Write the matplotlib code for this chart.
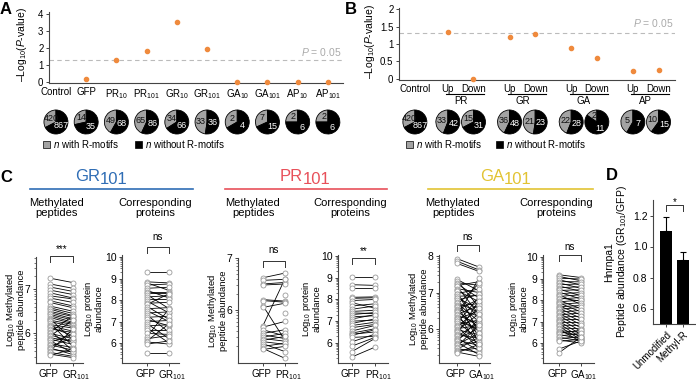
import numpy as np
import matplotlib
matplotlib.use('Agg')
import matplotlib.pyplot as plt
from matplotlib import transforms
from matplotlib.patches import Rectangle
from matplotlib.lines import Line2D
from matplotlib.ticker import FixedLocator, FormatStrFormatter

plt.rcParams['font.family'] = ['Liberation Sans', 'DejaVu Sans']
plt.rcParams['mathtext.fontset'] = 'custom'
plt.rcParams['mathtext.rm'] = 'Liberation Sans'
plt.rcParams['mathtext.it'] = 'Liberation Sans:italic'
plt.rcParams['axes.linewidth'] = 0.8
plt.rcParams['axes.edgecolor'] = '#444444'

GRAY = '#a3a3a3'
ORANGE = '#ef8a3d'
AXCOL = '#444444'

# ---- panel A data
a_labels = ['Control', 'GFP', 'PR$_{10}$', 'PR$_{101}$', 'GR$_{10}$', 'GR$_{101}$',
            'GA$_{10}$', 'GA$_{101}$', 'AP$_{10}$', 'AP$_{101}$']
a_logp = [np.nan, 0.2, 1.3, 1.85, 3.55, 1.92, 0.0, 0.0, 0.0, 0.0]
a_with = [420, 14, 49, 65, 34, 33, 2, 7, 2, 2]
a_without = [867, 35, 68, 86, 66, 36, 4, 15, 6, 6]

# ---- panel B data
b_groups = ['PR', 'GR', 'GA', 'AP']
b_ticklabels = ['Control'] + ['Up', 'Down'] * 4
b_logp = [np.nan, 1.33, 0.0, 1.21, 1.28, 0.88, 0.59, 0.24, 0.27]
b_with = [420, 33, 15, 36, 21, 22, 2, 5, 10]
b_without = [867, 42, 31, 48, 23, 28, 11, 7, 15]

P_CUT = 0.05

# ---- panel C data (log10 abundances, GFP vs DPR)
gr_pep_gfp = [7.25, 7.12, 7.05, 6.98, 6.92, 6.85, 6.80, 6.74, 6.70, 6.62, 6.58, 6.55, 6.50, 6.47, 6.43,
              6.40, 6.36, 6.33, 6.30, 6.27, 6.24, 6.20, 6.17, 6.14, 6.10, 6.07, 6.03, 6.00, 5.97, 5.94,
              5.90, 5.87, 5.84, 5.80, 5.77, 5.74, 5.70, 5.67, 5.64, 5.60, 5.57, 5.53, 5.50]
gr_pep_dpr = [7.15, 7.02, 6.95, 6.88, 6.80, 6.78, 6.70, 6.62, 6.58, 6.50, 6.45, 6.40, 6.38, 6.33, 6.30,
              6.25, 6.22, 5.85, 6.20, 6.15, 5.70, 6.12, 6.05, 5.95, 6.02, 5.60, 6.40, 5.88, 5.80, 6.30,
              5.82, 5.75, 5.55, 5.98, 5.68, 5.62, 5.90, 5.52, 5.58, 6.10, 5.48, 5.45, 5.65]

gr_prot_gfp = [9.30, 8.85, 8.80, 8.70, 8.55, 8.45, 8.40, 8.35, 8.25, 8.15, 8.05, 7.95, 7.85, 7.80, 7.70,
               7.60, 7.50, 7.40, 7.30, 7.20, 7.10, 7.00, 6.90, 6.80, 6.70, 6.60, 6.45, 6.30, 6.20, 6.10,
               6.05, 5.95, 5.55]
gr_prot_dpr = [9.30, 8.80, 8.45, 8.75, 8.60, 8.10, 8.40, 8.35, 7.60, 8.20, 8.05, 7.40, 7.90, 8.30, 7.10,
               7.65, 7.00, 7.45, 6.50, 7.25, 6.80, 7.05, 6.20, 6.85, 6.00, 6.60, 6.40, 7.60, 6.35, 6.90,
               5.95, 6.10, 5.55]

pr_pep_gfp = [6.62, 6.57, 6.50, 6.48, 6.20, 6.18, 6.08, 6.05, 5.70, 5.67, 5.62, 5.55, 5.52, 5.48, 5.45,
              5.42, 5.39, 5.35, 5.30, 5.26, 5.24, np.nan, np.nan]
pr_pep_dpr = [6.71, 6.59, 6.53, 6.50, 6.17, 6.15, 5.42, 6.13, 6.60, 5.78, 5.50, 5.62, 5.45, 5.55, 5.40,
              5.49, 5.34, 5.20, 5.36, 5.07, 5.30, 6.28, 5.95]

pr_prot_gfp = [9.02, 8.68, 8.55, 8.10, 8.05, 7.95, 7.85, 7.70, 7.55, 7.45, 7.38, 7.30, 7.20, 7.10, 7.00,
               6.90, 6.80, 6.70, 6.55, 6.45, 6.40, 6.35, 6.25, 6.05, 5.85, 5.60, 5.35]
pr_prot_dpr = [9.02, 8.65, 8.55, 8.12, 8.08, 8.00, 7.60, 7.80, 7.70, 7.50, 7.35, 7.40, 7.25, 7.30, 7.05,
               7.10, 6.95, 6.85, 6.80, 6.65, 6.50, 6.60, 6.30, 6.40, 6.25, 6.20, 5.80]

ga_pep_gfp = [7.93, 7.86, 7.80, 7.36, 7.33, 7.27, 7.24, 7.19, 7.17, 7.11, 7.06, 7.04, 6.97, 6.95, 6.90,
              6.86, 6.85, 6.79, 6.74, 6.72, 6.66, 6.63, 6.61, 6.55, 6.52, 6.49, 6.46, 6.40, 6.38, 6.33,
              6.31, 6.27, 6.22, 6.21, 6.16, 6.12, 6.09, 6.05, 6.01, 5.98, 5.96, 5.91, 5.87, 5.85, 5.80,
              5.76, 5.73, 5.70, 5.66, 5.63, 5.58, 5.56, 5.52, 5.47, 5.44, 5.41, 5.37, 5.35]
ga_pep_dpr = [7.70, 7.62, 7.58, 7.05, 6.60, 7.20, 6.85, 7.30, 6.40, 7.00, 6.75, 5.90, 7.10, 6.30, 6.92,
              6.55, 5.60, 6.95, 6.45, 6.20, 7.25, 6.70, 5.80, 6.35, 6.82, 6.05, 5.50, 6.65, 6.15, 7.40,
              5.95, 6.50, 6.00, 5.70, 6.88, 6.25, 5.45, 6.58, 6.10, 5.85, 6.42, 5.62, 6.78, 5.75, 6.18,
              5.40, 6.02, 5.55, 6.28, 5.30, 5.88, 5.65, 6.12, 5.35, 5.78, 5.48, 5.25, 5.58]

ga_prot_gfp = [9.18, 9.10, 9.02, 8.95, 8.86, 8.80, 8.72, 8.66, 8.58, 8.51, 8.45, 8.37, 8.30, 8.24, 8.17,
               8.11, 8.05, 7.98, 7.92, 7.87, 7.80, 7.74, 7.69, 7.62, 7.57, 7.50, 7.44, 7.38, 7.31, 7.27,
               7.20, 7.14, 7.08, 7.01, 6.96, 6.90, 6.83, 6.78, 6.71, 6.65, 6.58, 6.52, 6.45, 6.40, 6.33,
               6.27, 6.20, 6.14, 6.08, 5.72, 5.55]
ga_prot_dpr = [9.05, 8.90, 8.98, 8.70, 8.85, 8.55, 8.75, 8.40, 8.62, 8.20, 8.48, 8.05, 8.35, 7.80, 8.25,
               7.95, 8.12, 7.60, 8.00, 7.45, 7.88, 7.30, 7.75, 7.15, 7.66, 7.00, 7.52, 6.85, 7.40, 6.70,
               7.25, 6.55, 7.10, 6.40, 6.95, 6.25, 6.82, 6.15, 6.66, 6.05, 6.50, 6.35, 6.60, 6.20, 6.45,
               6.10, 6.30, 6.00, 6.18, 6.10, 6.28]

# ---- panel D data
d_labels = ['Unmodified', 'Methyl-R']
d_ratio = [1.10, 0.91]
d_err = [0.09, 0.055]

W, H = 696, 383
fig = plt.figure(figsize=(W / 100, H / 100), dpi=100)


def fx(px):
    return px / W


def fy(py):
    return 1 - py / H


def px_axes(left, top, right, bottom):
    return fig.add_axes([left / W, 1 - bottom / H, (right - left) / W, (bottom - top) / H])


def style_axes(ax):
    for s in ('top', 'right'):
        ax.spines[s].set_visible(False)
    ax.tick_params(direction='out', length=2.5, width=0.7, color=AXCOL, labelsize=7.5, pad=1.5)


def shift(artist, dx_px, dy_px=0):
    artist.set_transform(artist.get_transform() +
                         transforms.ScaledTranslation(dx_px / 100, dy_px / 100, fig.dpi_scale_trans))


def draw_pie(cx, cy, n_with, n_without, r=12):
    half = r * 1.25
    pa = px_axes(cx - half, cy - half, cx + half, cy + half)
    pa.pie([n_with, n_without], colors=[GRAY, 'black'], startangle=90, counterclock=True,
           wedgeprops=dict(edgecolor='black', linewidth=0.6))
    frac = n_with / (n_with + n_without)
    a1 = np.deg2rad(90 + 180 * frac)
    a2 = np.deg2rad(270 + 180 * frac)
    pa.text(0.5 * np.cos(a1), 0.62 * np.sin(a1), str(n_with), ha='center', va='center',
            fontsize=6.5, color='#111111')
    pa.text(0.48 * np.cos(a2), 0.62 * np.sin(a2), str(n_without), ha='center', va='center',
            fontsize=6.5, color='white')


def legend_row(x_gray, x_black, y):
    for x, col, txt in ((x_gray, GRAY, '$n$ with R-motifs'), (x_black, 'black', '$n$ without R-motifs')):
        fig.add_artist(Rectangle((fx(x), fy(y + 3.5)), 7 / W, 7 / H, transform=fig.transFigure,
                                 facecolor=col, edgecolor='black', lw=0.5))
        fig.text(fx(x + 10), fy(y), txt, va='center', ha='left', fontsize=7)


def pval_axes(ax, x, logp, labels):
    style_axes(ax)
    ax.scatter(x, logp, s=9, color=ORANGE, zorder=3, clip_on=False)
    ax.axhline(-np.log10(P_CUT), color='#bbbbbb', lw=0.8, dashes=(4, 3), zorder=1)
    ax.set_xticks(x)
    ax.set_xticklabels(labels)
    ax.tick_params(axis='x', length=0, labelsize=7, pad=3)
    ax.tick_params(axis='y', labelsize=7)
    ax.text(ax.get_xlim()[1] - 0.05, -np.log10(P_CUT) + 0.12, '$P$ = 0.05', ha='right', va='bottom',
            fontsize=7.5, color='#aaaaaa')


# ================= Panel A
axA = px_axes(49, 12, 343, 83)
axA.set_xlim(-0.23, 9.5)
axA.set_ylim(-0.06, 4.12)
a_x = np.arange(len(a_labels))
axA.set_yticks([0, 1, 2, 3, 4])
pval_axes(axA, a_x, a_logp, a_labels)
fig.text(fx(22), fy(44), '\u2013Log$_{10}$($P$-value)', rotation=90, ha='center', va='center', fontsize=7.5)
for xi, nw, nwo in zip(a_x, a_with, a_without):
    cx = axA.transData.transform((xi, 0))[0]
    draw_pie(cx, 122, nw, nwo)
legend_row(43, 135, 144)

# ================= Panel B
axB = px_axes(399, 8, 675, 80)
axB.set_xlim(-0.52, 8.52)
axB.set_ylim(-0.03, 2.03)
b_x = [0.0]
for g in range(len(b_groups)):
    up = 1.08 + g * 2.02
    b_x += [up, up + 0.84]
b_x = np.array(b_x)
axB.set_yticks([0, 0.5, 1, 1.5, 2])
axB.yaxis.set_major_formatter(FormatStrFormatter('%g'))
pval_axes(axB, b_x, b_logp, b_ticklabels)
fig.text(fx(370), fy(41), '\u2013Log$_{10}$($P$-value)', rotation=90, ha='center', va='center', fontsize=7.5)
trB = transforms.blended_transform_factory(axB.transData, fig.transFigure)
for g, name in enumerate(b_groups):
    up, down = b_x[1 + 2 * g], b_x[2 + 2 * g]
    axB.plot([up - 0.05, down + 0.35], [fy(94), fy(94)], transform=trB, color='black', lw=0.8, clip_on=False)
    axB.text((up + down) / 2, fy(101), name, transform=trB, ha='center', va='center', fontsize=7)
for xi, nw, nwo in zip(b_x, b_with, b_without):
    cx = axB.transData.transform((xi, 0))[0]
    draw_pie(cx, 122, nw, nwo)
legend_row(406, 496, 144)

# ================= Panel C
titles = [('GR', '101', '#2f6db5', 100, 30, 193),
          ('PR', '101', '#e8505a', 303, 225, 387),
          ('GA', '101', '#e2c333', 504, 428, 593)]
for name, sub, col, xs, l0, l1 in titles:
    fig.text(fx(xs), fy(181), name, ha='right', va='baseline', fontsize=12, color=col)
    fig.text(fx(xs), fy(184), sub, ha='left', va='baseline', fontsize=12, color=col)
    fig.add_artist(Line2D([fx(l0), fx(l1)], [fy(189), fy(189)], transform=fig.transFigure,
                          color=col, lw=1.2))
for xc, txt in ((56, 'Methylated\npeptides'), (155, 'Corresponding\nproteins'),
                (253, 'Methylated\npeptides'), (350, 'Corresponding\nproteins'),
                (453, 'Methylated\npeptides'), (556, 'Corresponding\nproteins')):
    fig.text(fx(xc), fy(208), txt, ha='center', va='center', fontsize=8, linespacing=1.05)

PEP_LABEL = 'Log$_{10}$ Methylated\npeptide abundance'
PROT_LABEL = 'Log$_{10}$ protein\nabundance'


def paired_panel(box, xlim, ylim, yticks, gfp, dpr, name2, ylabel, label_dx, br, sig, sig_y):
    ax = px_axes(*box)
    style_axes(ax)
    ax.set_xlim(*xlim)
    ax.set_ylim(*ylim)
    gfp = np.asarray(gfp, float)
    dpr = np.asarray(dpr, float)
    both = np.isfinite(gfp) & np.isfinite(dpr)
    for a, b in zip(gfp[both], dpr[both]):
        ax.plot([0, 1], [a, b], color='black', lw=0.6, zorder=2)
    for xi, vals in ((0, gfp), (1, dpr)):
        v = vals[np.isfinite(vals)]
        ax.plot(np.full(len(v), xi), v, 'o', ms=3.6, mfc='white', mec='#9b9b9b', mew=0.6,
                zorder=3, clip_on=False)
    ax.set_xticks([0, 1])
    ax.set_xticklabels(['GFP', name2], fontsize=7)
    lab = ax.get_xticklabels()
    shift(lab[0], -2)
    shift(lab[1], 3)
    ax.set_yticks(yticks)
    minor = [k + np.log10(m) for k in range(4, 11) for m in range(2, 10)]
    ax.yaxis.set_minor_locator(FixedLocator([v for v in minor if ylim[0] <= v <= ylim[1]]))
    ax.tick_params(axis='y', which='minor', length=1.5, width=0.5, color=AXCOL)
    ax.set_ylabel(ylabel, fontsize=6.8, linespacing=0.95, va='center')
    ax.yaxis.set_label_coords(-label_dx / (box[2] - box[0]), 0.5)
    tr = transforms.blended_transform_factory(ax.transData, fig.transFigure)
    ax.plot([0, 0, 1, 1], [fy(br + 6), fy(br), fy(br), fy(br + 6)], transform=tr,
            color='#333333', lw=0.7, clip_on=False)
    ax.text(0.5, fy(sig_y), sig, transform=tr, ha='center', va='center', fontsize=7)
    return ax


paired_panel((36, 257, 83, 363), (-0.61, 1.43), (5.33, 7.73), [6, 7], gr_pep_gfp, gr_pep_dpr,
             'GR$_{101}$', PEP_LABEL, 21, 256, '***', 249)
paired_panel((122, 255, 179, 363), (-1.14, 1.45), (5.07, 10.1), [6, 7, 8, 9, 10], gr_prot_gfp, gr_prot_dpr,
             'GR$_{101}$', PROT_LABEL, 29, 247, 'ns', 237)
paired_panel((238, 258, 297, 363), (-1.14, 1.55), (4.98, 7.0), [6, 7], pr_pep_gfp, pr_pep_dpr,
             'PR$_{101}$', PEP_LABEL, 21, 261, 'ns', 250)
paired_panel((338, 255, 388, 363), (-0.61, 1.57), (5.07, 10.05), [6, 7, 8, 9, 10], pr_prot_gfp, pr_prot_dpr,
             'PR$_{101}$', PROT_LABEL, 27, 258, '**', 251)
paired_panel((439, 255, 490, 363), (-0.82, 1.5), (5.07, 8.03), [6, 7, 8], ga_pep_gfp, ga_pep_dpr,
             'GA$_{101}$', PEP_LABEL, 21, 245, 'ns', 237)
paired_panel((543, 255, 594, 363), (-0.73, 1.59), (5.07, 10.1), [6, 7, 8, 9, 10], ga_prot_gfp, ga_prot_dpr,
             'GA$_{101}$', PROT_LABEL, 25, 255, 'ns', 247)

# ================= Panel D
axD = px_axes(653, 200, 695, 324)
style_axes(axD)
axD.set_xlim(-0.76, 1.71)
axD.set_ylim(0.5, 1.3)
d_x = np.arange(len(d_labels))
axD.bar(d_x, d_ratio, width=0.7, color='black', zorder=2)
axD.errorbar(d_x, d_ratio, yerr=[np.zeros(len(d_err)), d_err], fmt='none', ecolor='black',
             elinewidth=0.8, capsize=2.5, capthick=0.8, zorder=1)
axD.set_yticks([0.6, 0.8, 1.0, 1.2])
axD.yaxis.set_major_formatter(FormatStrFormatter('%.1f'))
axD.set_xticks(d_x)
axD.set_xticklabels(d_labels, rotation=45, ha='right', rotation_mode='anchor', fontsize=7)
axD.set_ylabel('Hnrnpa1\nPeptide abundance (GR$_{101}$/GFP)', fontsize=7.5, labelpad=3, linespacing=1.1)
trD = transforms.blended_transform_factory(axD.transData, fig.transFigure)
axD.plot([0, 0, 1, 1], [fy(211), fy(205), fy(205), fy(211)], transform=trD, color='#333333', lw=0.7,
         clip_on=False)
axD.text(0.5, fy(202), '*', transform=trD, ha='center', va='center', fontsize=7)

# panel letters
for letter, x, y in (('A', 0, 2), ('B', 345, 2), ('C', 0, 170), ('D', 606, 168)):
    fig.text(fx(x), fy(y), letter, ha='left', va='top', fontsize=12, fontweight='bold')

fig.savefig('out.png', dpi=100)
